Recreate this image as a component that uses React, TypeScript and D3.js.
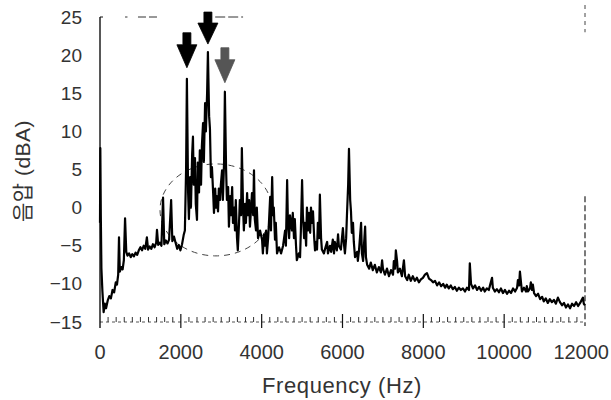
import React from "react";
import * as d3 from "d3";

// Spectrum samples (Hz, dBA)
const freqHz = [
  0, 8, 20, 35, 60, 90, 120, 150, 190, 230, 270, 310, 350, 390, 420, 450, 470, 490, 530, 560, 590, 620, 650, 680,
  720, 760, 800, 840, 880, 920, 960, 1000, 1040, 1080, 1120, 1160, 1190, 1230, 1270, 1310, 1350, 1390, 1410, 1440,
  1480, 1520, 1560, 1590, 1630, 1670, 1710, 1760, 1790, 1830, 1870, 1910, 1950, 1990, 2030, 2070, 2100,
  2130, 2150, 2180, 2200, 2230, 2250, 2280, 2300, 2320, 2350, 2370, 2400, 2420, 2450, 2470, 2500, 2520, 2550, 2570,
  2600, 2620, 2650, 2670, 2700, 2720, 2745, 2770, 2800, 2820, 2850, 2870, 2890, 2920, 2940, 2970, 2990, 3020, 3040,
  3070, 3090, 3120, 3140, 3170, 3190, 3220, 3240, 3270, 3290, 3320, 3340, 3360, 3390, 3410, 3440, 3460, 3490, 3510,
  3540, 3560, 3590, 3610, 3640, 3660, 3690, 3710, 3740, 3760, 3790, 3810, 3830, 3860, 3880, 3910, 3960, 4010, 4030,
  4060, 4080, 4110, 4130, 4160, 4180, 4210, 4230, 4260, 4280, 4300, 4330, 4350, 4380, 4430, 4480, 4530, 4580, 4600,
  4630, 4650, 4680, 4700, 4750, 4770, 4800, 4820, 4850, 4870, 4920, 4950, 4970, 5000, 5020, 5050, 5070, 5100, 5120,
  5150, 5170, 5200, 5220, 5250, 5270, 5300, 5320, 5350, 5370, 5390, 5420, 5440, 5470, 5490, 5540, 5590, 5620, 5640,
  5690, 5720, 5760, 5790, 5810, 5860, 5890, 5910, 5960, 6010, 6040, 6060, 6090, 6110, 6140, 6160, 6190, 6210, 6230,
  6260, 6280, 6310, 6360, 6380, 6410, 6460, 6480, 6510, 6530, 6560, 6580, 6610, 6660, 6700, 6750, 6800, 6850, 6900,
  6950, 6980, 7000, 7050, 7100, 7150, 7200, 7250, 7270, 7300, 7320, 7350, 7370, 7420, 7470, 7520, 7550, 7600, 7640,
  7690, 7740, 7790, 7840, 7890, 7940, 7990, 8040, 8090, 8140, 8190, 8240, 8290, 8340, 8390, 8440, 8490, 8540, 8580,
  8630, 8680, 8730, 8780, 8830, 8880, 8930, 8980, 9030, 9080, 9130, 9150, 9180, 9230, 9280, 9330, 9380, 9430, 9480,
  9520, 9570, 9620, 9650, 9700, 9720, 9770, 9820, 9870, 9920, 9970, 10020, 10070, 10120, 10170, 10220, 10270, 10320,
  10340, 10370, 10390, 10420, 10440, 10490, 10540, 10560, 10590, 10640, 10660, 10690, 10710, 10740, 10790, 10840,
  10890, 10940, 10980, 11030, 11080, 11130, 11180, 11230, 11280, 11330, 11380, 11430, 11480, 11530, 11580, 11630,
  11680, 11730, 11780, 11830, 11880, 11920, 11950, 11970, 12000,
];

const levelDb = [
  -2, 7.8, -1, -8, -11, -13.7, -12.6, -13.2, -12.2, -11.6, -11.9, -10.8, -11.1, -9.8, -10.1, -8.8, -3.9, -8.4, -7.8, -8.1, -6.9, -1.4, -5.8, -6.3,
  -6.0, -6.5, -6.1, -6.4, -5.9, -6.2, -5.6, -5.2, -5.6, -5.0, -5.4, -3.9, -5.5, -5.1, -5.4, -4.8, -5.2, -4.6, -2.9, -4.9,
  -4.6, -5.0, 1.3, -4.8, -4.3, -4.7, -4.2, 1.0, -4.4, -3.8, -4.6, -5.4, -4.9, -5.6, -4.8, -3.6, -3.0,
  5, 16.9, 2, -1.5, 4, 0, 7, 9.3, 3, 6.5, 0.5, -1.6, 5.9, 2, 7.5, 3, 8, 11.1, 6,
  13.7, 10, 15, 20.4, 12, 10.4, 4, 5.3, 1.9, -0.7, 2.5, 0, 1.5, -0.5, 2.5, 1, 3, 4.9, 1,
  6, 15.2, 5, 1, 2.7, -2.5, 1.5, -1, 2.7, -2, 0, -3, 1, -4, -5.6, -2, 1, -1, 7.8,
  0, -3, 0.5, -2, 1.9, -1, 1, -2.5, 0, 1.9, -1, 4.9, -1.5, -3, 0, -4, -3, -4.2, -6,
  -3.5, -5, -3, -6, -4, -2, 1.4, -3, 4.0, -1, 0, -4.2, -2, -6, -5.2, -6, -5, -3, -5,
  3.6, -2, -4, -1, -3, -0.7, -4, -1.5, -5, -6.9, -6, -6.5, -3, 3.6, -1, -4, -2, -5, 0,
  -3, -0.7, -3.3, 0, -2, -0.5, -4, -5.6, -4.5, -5.5, -2, -4, 1.7, -4, -5.5, -6, -5, -4.5, -6,
  -5, -5.8, -4.2, -6, -4.5, -5.6, -3.5, -5, -5.5, -2.7, -5, -6, -4, -1, 3, 7.7, 1, -0.5, -3.3,
  -2, -4.5, -6.5, -5.8, -7, -5.5, -2.0, -6, -7, -5, -2.5, -6.5, -7.5, -8, -7.2, -8.2, -7.5, -8.5, -7.8,
  -8.5, -6.9, -8, -8.8, -8, -9, -8.2, -8.8, -7, -8, -5.6, -7, -8.5, -8, -9, -6.9, -9, -9.5, -8.8,
  -9.6, -9, -9.6, -9.2, -9.8, -9.4, -9.2, -8.8, -8.6, -9.3, -9.5, -9.8, -9.6, -10.2, -9.8, -10.3, -10, -10.5, -10.1,
  -10.6, -10.2, -10.7, -10.4, -10.9, -10.5, -10.8, -10.6, -11, -10.5, -10.8, -7.3, -10, -10.6, -10.2, -10.8, -10.4, -10.9, -10.5,
  -11, -10.6, -10.8, -10.2, -9.2, -10.5, -11, -10.7, -11.1, -10.6, -11.2, -10.8, -11.3, -10.9, -11.2, -10.6, -11, -10.5,
  -9.5, -10.2, -8.4, -10, -11, -10.5, -11, -10.3, -11, -10.6, -9.8, -10.8, -10.1, -11.2, -11.6, -11.3,
  -12, -11.7, -12.3, -11.9, -12.5, -12, -12.4, -12.1, -12.6, -11.8, -12.4, -12.8, -12.5, -13.1, -12.7, -13.2,
  -12.6, -12.9, -12.4, -12.9, -12.5, -12.1, -11.8, -12.6, -12.8,
];

// Axis ticks
const xTicks = [0, 2000, 4000, 6000, 8000, 10000, 12000];
const yTicks = [-15, -10, -5, 0, 5, 10, 15, 20, 25];

// Annotated peaks (arrows)
const arrowFreq = [2150, 2670, 3090];
const arrowDb = [16.9, 20.4, 15.2];
const arrowGap = [11, 8, 9];
const arrowLen = [35, 32, 35];
const arrowFill = ["#000", "#000", "#555"];

// Dashed ellipse around the tonal cluster (center Hz, center dB, radius Hz, radius dB)
const ellipseCenter = [2870, -0.3];
const ellipseRadius = [1385, 6.03];

export default function App() {
  const width = 611;
  const height = 400;
  const x = d3.scaleLinear().domain([0, 12000]).range([100, 585]);
  const y = d3.scaleLinear().domain([-15, 25]).range([322, 17]);

  const pts = freqHz.map((f, i) => [f, levelDb[i]] as [number, number]);
  const line = d3
    .line<[number, number]>()
    .x((d) => x(d[0]))
    .y((d) => y(d[1]));

  const minorTicks = d3.range(0, 12001, 200).filter((v) => v % 2000 !== 0);

  const font = "'Liberation Sans', Arial, Helvetica, sans-serif";
  const baseY = y(-15);

  const ecx = x(ellipseCenter[0]);
  const ecy = y(ellipseCenter[1]);
  const erx = x(ellipseCenter[0] + ellipseRadius[0]) - ecx;
  const ery = ecy - y(ellipseCenter[1] + ellipseRadius[1]);

  const arrowPath = (len: number) => {
    const hw = 10;
    const hh = Math.round(len * 0.65);
    const sw = 4;
    return `M0,0 L${-hw},${-hh} L${-sw},${-hh} L${-sw},${-len} L${sw},${-len} L${sw},${-hh} L${hw},${-hh} Z`;
  };

  return (
    <svg
      width={width}
      height={height}
      style={{ position: "absolute", left: 0, top: 0, background: "#fff" }}
    >
      <rect x={0} y={0} width={width} height={height} fill="#fff" />

      {/* partial frame remnants */}
      <line x1={x(620)} x2={x(680)} y1={y(25)} y2={y(25)} stroke="#333" strokeWidth={1} />
      <line x1={x(940)} x2={x(1410)} y1={y(25)} y2={y(25)} stroke="#333" strokeWidth={1} strokeDasharray="8 3" />
      <line x1={x(2850)} x2={x(3540)} y1={y(25)} y2={y(25)} stroke="#333" strokeWidth={1} strokeDasharray="10 3" />
      <line x1={x(12000)} x2={x(12000)} y1={y(25) - 12} y2={y(23)} stroke="#444" strokeWidth={1} strokeDasharray="4 4" />
      <line x1={x(12000)} x2={x(12000)} y1={y(1.5)} y2={baseY + 4} stroke="#222" strokeWidth={1.2} strokeDasharray="6 3" />

      {/* dashed ellipse */}
      <ellipse cx={ecx} cy={ecy} rx={erx} ry={ery} fill="none" stroke="#444" strokeWidth={1} strokeDasharray="6 5" />

      {/* bottom axis */}
      <line x1={x(0)} x2={x(12000)} y1={baseY} y2={baseY} stroke="#555" strokeWidth={1} strokeDasharray="3 3" />
      {minorTicks.map((t) => (
        <line key={t} x1={x(t)} x2={x(t)} y1={baseY} y2={baseY - 5} stroke="#333" strokeWidth={1} />
      ))}
      {xTicks.slice(1, -1).map((t) => (
        <line key={t} x1={x(t)} x2={x(t)} y1={baseY - 8} y2={baseY + 6} stroke="#111" strokeWidth={1.2} />
      ))}

      {/* left axis */}
      <line x1={x(0)} x2={x(0)} y1={y(25)} y2={baseY + 6} stroke="#111" strokeWidth={1.4} />
      <line x1={x(0)} x2={x(0) + 3} y1={y(25)} y2={y(25)} stroke="#111" strokeWidth={1} />

      {/* spectrum */}
      <path d={line(pts) || ""} fill="none" stroke="#000" strokeWidth={2.2} strokeLinejoin="round" />

      {/* arrows */}
      {arrowFreq.map((f, i) => (
        <path
          key={f}
          d={arrowPath(arrowLen[i])}
          transform={`translate(${x(f)},${y(arrowDb[i]) - arrowGap[i]})`}
          fill={arrowFill[i]}
          stroke={arrowFill[i]}
          strokeWidth={0.8}
        />
      ))}

      {/* y tick labels */}
      {yTicks.map((t) => (
        <text
          key={t}
          x={82}
          y={y(t) + 6.5}
          textAnchor="end"
          fontFamily={font}
          fontSize={19}
          fill="#333"
        >
          {t < 0 ? `\u2212${Math.abs(t)}` : `${t}`}
        </text>
      ))}

      {/* x tick labels */}
      {xTicks.map((t, i) => {
        const last = i === xTicks.length - 1;
        return (
          <text
            key={t}
            x={last ? 609 : x(t)}
            y={359}
            textAnchor={last ? "end" : "middle"}
            fontFamily={font}
            fontSize={20}
            fill="#333"
          >
            {t}
          </text>
        );
      })}

      {/* axis titles */}
      <text x={342} y={393} textAnchor="middle" fontFamily={font} fontSize={22} letterSpacing={0.6} fill="#333">
        Frequency (Hz)
      </text>
      <text
        transform={`translate(30,171) rotate(-90)`}
        textAnchor="middle"
        fontFamily={`${font}, 'Noto Sans CJK KR'`}
        fontSize={21}
        letterSpacing={0.5}
        fill="#333"
      >
        음압 (dBA)
      </text>
    </svg>
  );
}
